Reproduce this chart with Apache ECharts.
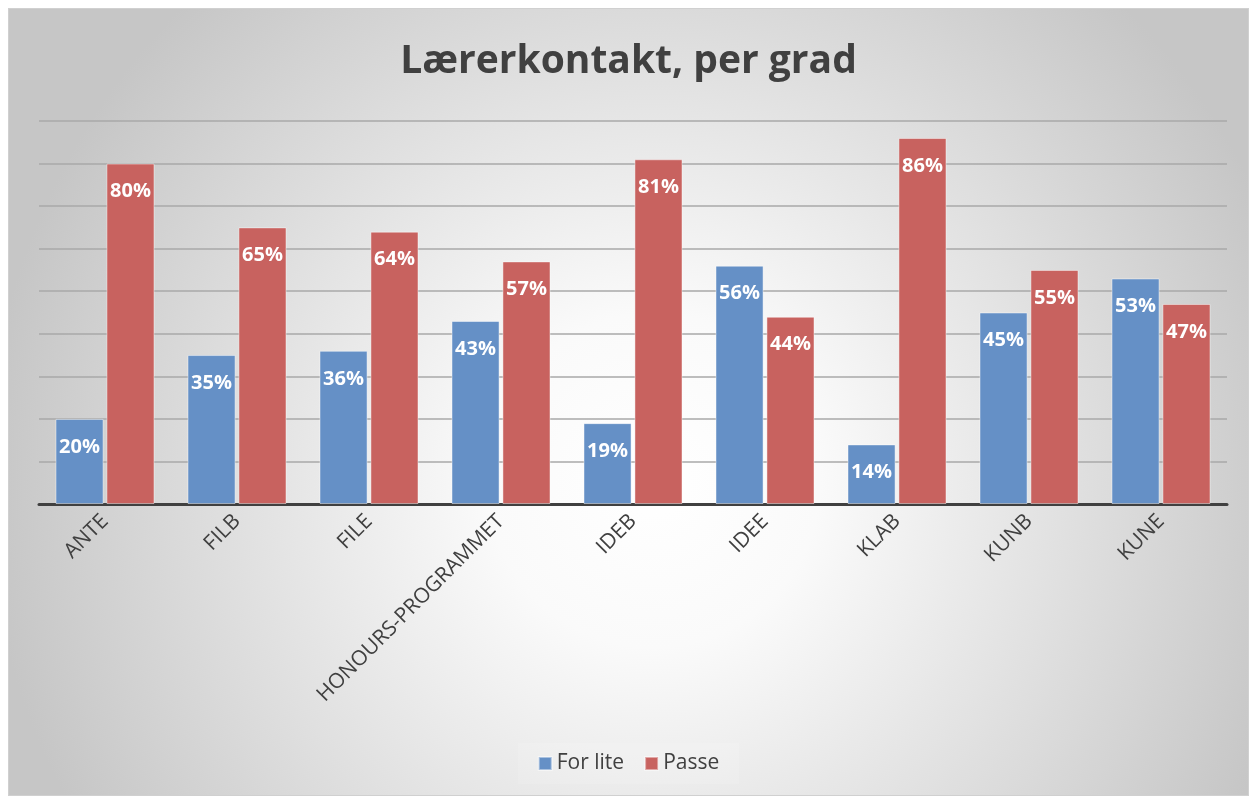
<!DOCTYPE html>
<html>
<head>
<meta charset="utf-8">
<script src="https://cdn.jsdelivr.net/npm/echarts@6/dist/echarts.min.js"></script>
<style>
  html, body { margin: 0; padding: 0; background: #fff; }
  #chart { position: absolute; left: 8px; top: 8px; width: 1241px; height: 788px; border: 1px solid #d0d0d0; box-sizing: border-box; }
</style>
</head>
<body>
<div id="chart"></div>
<script>
  // grader
  const categories = ['ANTE', 'FILB', 'FILE', 'HONOURS-PROGRAMMET', 'IDEB', 'IDEE', 'KLAB', 'KUNB', 'KUNE']
  const forLite = [20, 35, 36, 43, 19, 56, 14, 45, 53]
  const passe = [80, 65, 64, 57, 81, 44, 86, 55, 47]

  const font = '"Open Sans", "Noto Sans", sans-serif'
  const chart = echarts.init(document.getElementById('chart'))

  chart.setOption({
    backgroundColor: {
      type: 'radial', x: 0.52, y: 0.6, r: 0.85,
      colorStops: [
        { offset: 0, color: '#ffffff' },
        { offset: 0.25, color: '#fafafa' },
        { offset: 1, color: '#c6c6c6' },
      ],
    },
    textStyle: { fontFamily: font },
    title: {
      text: 'Lærerkontakt, per grad',
      left: 'center',
      top: 28,
      textStyle: { fontSize: 39, fontWeight: 'bold', color: '#404040', fontFamily: font },
    },
    legend: {
      bottom: 11,
      left: 'center',
      itemWidth: 13,
      itemHeight: 13,
      itemGap: 20,
      icon: 'rect',
      backgroundColor: 'rgba(255,255,255,0.12)',
      padding: [10, 20],
      textStyle: { fontSize: 21, color: '#404040', fontFamily: font },
      data: ['For lite', 'Passe'],
    },
    grid: { left: 30, right: 21, top: 112, bottom: 291, containLabel: false },
    xAxis: {
      type: 'category',
      data: categories,
      axisLine: { lineStyle: { color: '#404040', width: 3 } },
      axisTick: { show: false },
      axisLabel: { interval: 0, rotate: 45, fontSize: 21, color: '#404040', margin: 14, fontFamily: font },
    },
    yAxis: {
      type: 'value',
      min: 0,
      max: 90,
      interval: 10,
      axisLabel: { show: false },
      axisLine: { show: false },
      axisTick: { show: false },
      splitLine: { lineStyle: { color: '#a8a8a8', width: 1.5 } },
    },
    series: [
      {
        name: 'For lite',
        type: 'bar',
        data: forLite,
        barCategoryGap: '25%',
        barGap: '6%',
        itemStyle: { color: '#6590c6', borderColor: 'rgba(255,255,255,0.45)', borderWidth: 1 },
        label: {
          show: true, position: 'insideTop', distance: 18,
          formatter: '{c}%', color: '#fff', fontWeight: 'bold', fontSize: 20, fontFamily: font,
        },
      },
      {
        name: 'Passe',
        type: 'bar',
        data: passe,
        barCategoryGap: '25%',
        barGap: '6%',
        itemStyle: { color: '#c8625f', borderColor: 'rgba(255,255,255,0.45)', borderWidth: 1 },
        label: {
          show: true, position: 'insideTop', distance: 18,
          formatter: '{c}%', color: '#fff', fontWeight: 'bold', fontSize: 20, fontFamily: font,
        },
      },
    ],
  })
</script>
</body>
</html>
